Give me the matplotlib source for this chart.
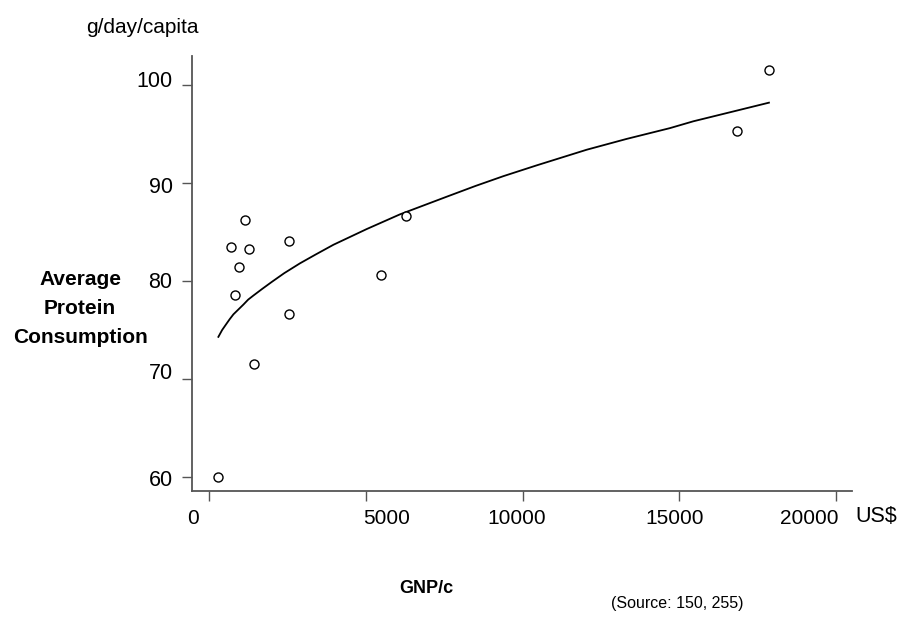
import matplotlib
matplotlib.use("Agg")
import matplotlib.pyplot as plt
from matplotlib.transforms import ScaledTranslation

plt.rcParams["font.family"] = ["Liberation Sans", "DejaVu Sans"]

# Country observations: GNP per capita (US$) vs protein intake (g/day/capita)
gnp = [290, 690, 830, 960, 1150, 1280, 1430, 2550, 2550, 5500, 6300, 16850, 17860]
protein = [60.0, 83.5, 78.6, 81.4, 86.2, 83.3, 71.5, 84.1, 76.6, 80.6, 86.6, 95.3, 101.5]

# Fitted trend curve, sampled along its length
curve_x = [300, 420, 550, 660, 780, 940, 1100, 1250, 1410, 1700, 2000, 2400, 2900,
           3400, 3970, 4500, 5030, 6090, 7580, 8500, 9390, 10450, 12050, 13320,
           14700, 15450, 16720, 17860]
curve_y = [74.3, 75.0, 75.6, 76.1, 76.6, 77.1, 77.6, 78.1, 78.5, 79.2, 79.9, 80.8, 81.8,
           82.7, 83.7, 84.5, 85.3, 86.8, 88.6, 89.7, 90.7, 91.8, 93.4, 94.5,
           95.6, 96.3, 97.3, 98.2]

x_ticks = [0, 5000, 10000, 15000, 20000]
y_ticks = [60, 70, 80, 90, 100]

# small hand-set nudges (pixels) for the tick labels
x_label_shift = [-16, 21, -6, -5, -27]
y_label_shift = [-1, 8, 1, -2, 6]

SPINE = "#555555"

fig = plt.figure(figsize=(9, 6.17), dpi=100)
ax = fig.add_axes([0.2133, 0.2042, 0.7334, 0.705])

ax.plot(curve_x, curve_y, color="black", lw=1.3)
ax.plot(gnp, protein, linestyle="none", marker="o", markersize=6.5,
        markerfacecolor="white", markeredgecolor="black", markeredgewidth=1.0)

ax.set_xlim(-542, 20510)
ax.set_ylim(58.57, 102.96)
ax.set_xticks(x_ticks)
ax.set_yticks(y_ticks)
ax.set_xticklabels([str(v) for v in x_ticks], fontsize=15)
ax.set_yticklabels([str(v) for v in y_ticks], fontsize=15.5)

for side in ["top", "right"]:
    ax.spines[side].set_visible(False)
for side in ["left", "bottom"]:
    ax.spines[side].set_color(SPINE)
    ax.spines[side].set_linewidth(1.3)

ax.tick_params(axis="both", direction="out", length=7, width=1.0, color=SPINE)
ax.tick_params(axis="x", pad=6)
ax.tick_params(axis="y", pad=7)

for lab, dx in zip(ax.get_xticklabels(), x_label_shift):
    lab.set_transform(lab.get_transform() + ScaledTranslation(dx / 100, 0, fig.dpi_scale_trans))
for lab, dy in zip(ax.get_yticklabels(), y_label_shift):
    lab.set_transform(lab.get_transform() + ScaledTranslation(0, dy / 100, fig.dpi_scale_trans))

fig.text(0.158, 0.955, "g/day/capita", ha="center", va="center", fontsize=15)
fig.text(0.089, 0.500, "Average\nProtein\nConsumption", ha="center", va="center",
         fontsize=15, fontweight="bold", linespacing=1.65)
fig.text(0.974, 0.163, "US$", ha="center", va="center", fontsize=15.5)
fig.text(0.474, 0.047, "GNP/c", ha="center", va="center", fontsize=13,
         fontweight="bold")
fig.text(0.826, 0.022, "(Source: 150, 255)", ha="right", va="center", fontsize=11.5)

fig.savefig("out.png", dpi=100)
